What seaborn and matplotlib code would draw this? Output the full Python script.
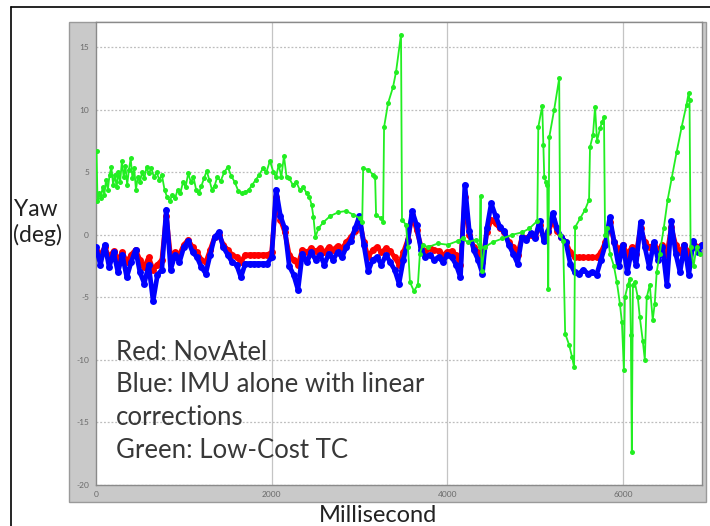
import numpy as np
import pandas as pd
import matplotlib
matplotlib.use("Agg")
import matplotlib.pyplot as plt
from matplotlib.patches import Rectangle
from matplotlib.lines import Line2D
import seaborn as sns

# ---------------- data ----------------
# common time base for Red / Blue (ms)
time_ms = list(range(0, 6901, 50))

blue_yaw = [
    -1.0, -2.4, -0.8, -2.6, -1.4, -3.0, -1.6, -3.4, -2.2, -1.2,
    -3.0, -3.9, -2.4, -5.3, -3.2, -2.8, 2.0, -2.8, -1.6, -2.2,
    -1.0, -0.5, -1.4, -1.8, -2.6, -3.1, -1.6, -0.2, 0.2, -1.0,
    -1.6, -2.2, -2.4, -3.4, -2.3, -2.3, -2.3, -2.3, -2.3, -2.3,
    -1.8, 3.6, 1.5, 0.5, -2.5, -3.2, -4.4, -1.5, -2.2, -1.4,
    -2.0, -1.6, -2.4, -1.5, -2.0, -1.4, -1.8, -1.0, -0.5, 0.5,
    1.5, -0.8, -2.9, -2.0, -1.8, -2.4, -1.6, -2.2, -2.8, -3.9,
    -2.0, -0.5, 1.9, 0.8, -1.2, -1.8, -1.6, -2.0, -1.8, -2.2,
    -1.6, -1.8, -2.4, -3.4, 4.0, 0.3, -1.2, -2.0, -3.1, 0.5,
    2.5, 1.5, 0.6, 0.3, -0.8, -1.5, -2.3, -0.2, -0.4, 0.1,
    -0.3, 1.1, -0.5, 0.3, 1.7, 0.5, -0.2, -0.6, -2.3, -3.0,
    -3.1, -2.8, -3.1, -3.0, -3.2, -2.0, -0.8, 1.4, -0.6, -2.5,
    -0.8, -3.0, -1.2, -2.4, 1.0, -1.0, -2.6, -0.6, -2.0, -1.0,
    -4.0, 1.1, -1.5, -3.0, -0.8, -3.2, -0.5, -1.4, -0.8,
]

red_yaw = [
    -1.2, -1.6, -1.0, -1.8, -1.3, -2.0, -1.4, -2.2, -1.6, -1.2,
    -2.0, -2.6, -1.8, -2.8, -2.4, -2.0, 1.5, -1.8, -1.4, -1.6,
    -0.8, -0.4, -1.0, -1.4, -2.0, -2.2, -1.2, -0.2, 0.0, -0.8,
    -1.2, -1.6, -1.8, -2.2, -1.6, -1.6, -1.6, -1.6, -1.6, -1.6,
    -1.4, 3.0, 1.2, 0.2, -1.6, -2.0, -2.4, -1.2, -1.4, -1.1,
    -1.3, -1.1, -1.4, -1.0, -1.2, -0.9, -1.1, -0.6, -0.2, 0.3,
    1.2, -0.6, -1.8, -1.2, -1.0, -1.4, -1.1, -1.3, -1.8, -2.4,
    -1.4, -0.4, 1.6, 0.4, -0.9, -1.3, -1.1, -1.2, -1.3, -1.6,
    -1.4, -1.3, -1.6, -2.4, 3.0, 0.0, -1.0, -1.4, -2.2, 0.2,
    1.2, 0.9, 0.5, 0.2, -0.6, -1.0, -1.6, -0.2, -0.3, 0.0,
    -0.2, 0.8, -0.3, 0.2, 1.2, 0.3, -0.2, -0.6, -1.4, -1.8,
    -1.8, -1.8, -1.8, -1.8, -1.8, -1.4, -0.6, 1.0, -0.6, -1.2,
    -0.8, -1.6, -1.0, -1.5, 0.5, -0.6, -1.0, -0.8, -1.2, -0.8,
    -1.6, 0.6, -0.8, -1.4, -0.8, -1.6, -0.6, -1.0, -0.8,
]

green_ms = [
    6, 17, 35, 55, 75, 95, 115, 135, 155, 175,
    195, 215, 235, 255, 275, 295, 315, 335, 355, 375,
    395, 415, 435, 455, 475, 500, 525, 550, 575, 600,
    630, 660, 690, 720, 750, 780, 810, 840, 870, 900,
    930, 960, 990, 1020, 1050, 1080, 1110, 1140, 1170, 1200,
    1230, 1260, 1290, 1320, 1350, 1380, 1420, 1460, 1500, 1540,
    1580, 1620, 1660, 1700, 1740, 1780, 1820, 1860, 1900, 1940,
    1980, 2020, 2050, 2080, 2110, 2140, 2170, 2200, 2240, 2280,
    2320, 2360, 2400, 2430, 2455, 2476, 2498,
    2532, 2589, 2668, 2759,
    2850, 2929, 3008, 3031, 3042, 3099, 3155, 3178, 3189, 3246,
    3269, 3280, 3325, 3382, 3416, 3473, 3484, 3529, 3552, 3575,
    3620, 3665, 3688, 3722, 3778, 3892, 4005, 4118, 4175, 4232,
    4322, 4368, 4379, 4390, 4424, 4515, 4628, 4741, 4855, 4934,
    5025, 5036, 5081, 5093, 5104, 5127, 5138, 5149, 5161, 5217,
    5274, 5285, 5319, 5342, 5387, 5421, 5444, 5455, 5512, 5569,
    5614, 5625, 5659, 5682, 5705, 5739, 5762, 5784, 5796, 5818,
    5852, 5897, 5931, 5965, 5988, 6011, 6022, 6056, 6079, 6090,
    6101, 6113, 6135, 6169, 6192, 6226, 6249, 6271, 6305, 6339,
    6362, 6384, 6418, 6464, 6509, 6555, 6611, 6668, 6724, 6747,
    6758, 6770, 6804, 6838, 6872,
]

green_yaw = [
    6.7, 2.7, 3.3, 2.9, 3.8, 3.2, 4.4, 3.6, 4.8, 5.4,
    4.0, 4.8, 3.8, 5.0, 4.2, 5.9, 4.6, 5.5, 4.0, 5.2,
    6.1, 4.5, 5.3, 3.6, 4.6, 4.2, 5.0, 4.5, 5.4, 4.9,
    5.3, 4.6, 5.0, 4.4, 4.8, 3.6, 3.0, 2.7, 3.2, 2.9,
    3.6, 3.3, 4.2, 3.8, 4.9, 4.2, 4.6, 3.6, 3.3, 3.9,
    4.5, 5.1, 4.4, 3.6, 3.9, 4.6, 4.3, 5.0, 5.4, 4.7,
    4.2, 3.5, 3.3, 3.4, 3.6, 4.0, 4.4, 4.8, 5.3, 5.0,
    5.9, 5.0, 4.6, 5.6, 4.6, 6.3, 4.6, 4.5, 4.0, 4.2,
    3.6, 3.8, 3.3, 3.0, 2.4, 1.4, -0.2,
    0.5, 1.0, 1.5, 1.8,
    1.9, 1.6, 1.3, 1.0, 5.3, 5.2, 4.8, 4.6, 1.6, 1.3,
    1.0, 8.6, 10.5, 11.8, 13.0, 16.0, 1.2, 0.8, -1.0, -3.8,
    -4.5, -4.0, -1.5, -0.8, -1.0, -0.7, -0.8, -0.5, -0.3, -0.6,
    -0.4, -1.0, 3.1, -2.9, -1.0, -0.6, -0.3, 0.0, 0.2, 0.5,
    1.1, 8.6, 10.3, 7.2, 4.6, 4.2, 4.0, -4.3, 7.8, 10.0,
    12.5, 0.0, -0.5, -7.9, -8.8, -9.8, -10.6, 0.6, 1.3, 2.0,
    2.8, 7.0, 8.0, 10.2, 7.5, 8.5, 9.0, 9.4, 0.0, 0.5,
    -1.5, -2.5, -3.8, -5.5, -7.0, -10.8, -5.0, -4.0, -3.5, -8.0,
    -17.4, -4.0, -3.8, -5.0, -6.6, -8.5, -10.0, -5.0, -4.0, -6.8,
    -5.5, -3.0, -1.5, 0.5, 2.8, 4.5, 6.6, 8.6, 10.4, 11.3,
    10.8, -1.0, -2.5, -1.0, -1.5,
]

x_ticks = [0, 2000, 4000, 6000]
y_ticks = [-20, -15, -10, -5, 0, 5, 10, 15]

df_rb = pd.DataFrame({"ms": time_ms, "red": red_yaw, "blue": blue_yaw})
df_g = pd.DataFrame({"ms": green_ms, "green": green_yaw})

# ---------------- figure ----------------
sns.set_theme(style="white")
plt.rcParams["font.family"] = ["Lato", "DejaVu Sans"]

W, H = 710, 526
fig = plt.figure(figsize=(W / 100, H / 100), dpi=100)
fig.patch.set_facecolor("white")

# outer border (top and left)
fig.add_artist(Line2D([11 / W, 1.0], [1 - 7 / H, 1 - 7 / H], color="black", lw=1.2,
                      transform=fig.transFigure))
fig.add_artist(Line2D([11 / W, 11 / W], [0.0, 1 - 7 / H], color="black", lw=1.2,
                      transform=fig.transFigure))

# grey MATLAB-like panel
fig.add_artist(Rectangle((69 / W, 1 - 502 / H), (706 - 69) / W, (502 - 22) / H,
                         transform=fig.transFigure, facecolor="#c9c9c9",
                         edgecolor="#9a9a9a", lw=1.0, zorder=0))

ax = fig.add_axes([96 / W, 1 - 485 / H, (702 - 96) / W, (485 - 22) / H])
ax.set_facecolor("white")

# grid
for yv in y_ticks:
    ax.axhline(yv, color="#bdbdbd", lw=0.9, ls=(0, (1.5, 1.5)), zorder=0.5)
for xv in x_ticks[1:]:
    ax.axvline(xv, color="#c4c4c4", lw=0.9, zorder=0.5)

sns.lineplot(data=df_rb, x="ms", y="red", ax=ax, color="#ff0000", lw=3.4,
             marker="o", markersize=5, markeredgewidth=0, sort=False,
             estimator=None, zorder=2)
sns.lineplot(data=df_rb, x="ms", y="blue", ax=ax, color="#0000ff", lw=3.4,
             marker="o", markersize=5, markeredgewidth=0, sort=False,
             estimator=None, zorder=3)
sns.lineplot(data=df_g, x="ms", y="green", ax=ax, color="#22ee22", lw=1.3,
             marker="o", markersize=3.6, markeredgewidth=0, sort=False,
             estimator=None, zorder=4)

ax.set_xlim(0, 6900)
ax.set_ylim(-20, 17)
ax.set_xticks(x_ticks)
ax.set_yticks(y_ticks)
ax.set_xticklabels([str(v) for v in x_ticks])
ax.set_yticklabels([str(v) for v in y_ticks])
ax.tick_params(axis="both", direction="in", length=5, width=0.8, color="#555555",
               labelsize=6, labelcolor="#6a6a6a", pad=5)
ax.tick_params(axis="x", pad=4)
ax.set_xlabel("")
ax.set_ylabel("")
for s in ax.spines.values():
    s.set_color("#8a8a8a")
    s.set_linewidth(1.0)

# labels
fig.text(14 / W, 1 - 210 / H, "Yaw", fontsize=16.5, color="#222222",
         ha="left", va="center")
fig.text(13 / W, 1 - 235 / H, "(deg)", fontsize=16.5, color="#222222",
         ha="left", va="center")
fig.text(378 / W, 1 - 516 / H, "Millisecond", fontsize=17, color="#222222",
         ha="center", va="center")

legend_lines = ["Red: NovAtel", "Blue: IMU alone with linear", "corrections",
                "Green: Low-Cost TC"]
for i, t in enumerate(legend_lines):
    fig.text(116 / W, 1 - (352 + 32.7 * i) / H, t, fontsize=18.5, color="#383838",
             ha="left", va="center")

fig.savefig("out.png", dpi=100)
